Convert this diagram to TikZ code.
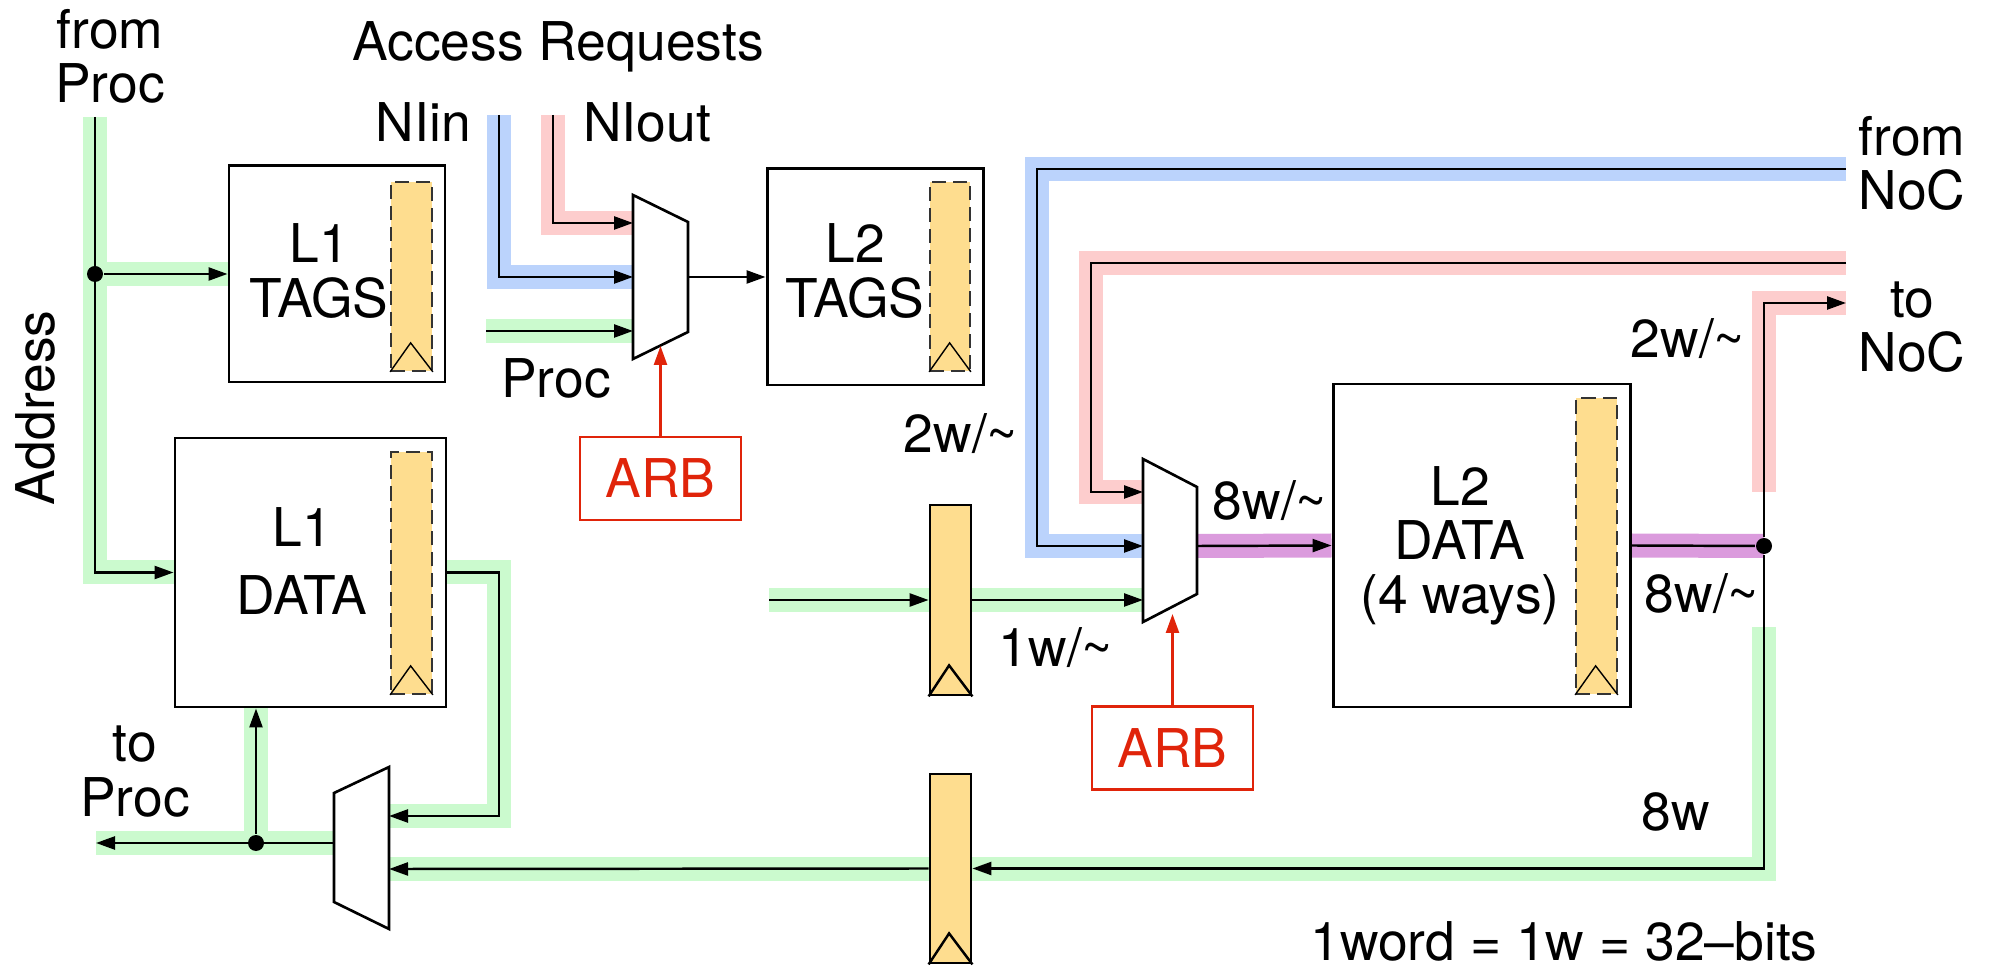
\documentclass[tikz,border=0pt]{standalone}
\usepackage{fontspec}
\setmainfont{TeX Gyre Heros}
\usetikzlibrary{arrows.meta,backgrounds}
\definecolor{bgreen}{RGB}{203,250,206}
\definecolor{bblue}{RGB}{187,211,252}
\definecolor{bpink}{RGB}{253,205,205}
\definecolor{bpurple}{RGB}{219,155,221}
\definecolor{regyellow}{RGB}{254,221,143}
\definecolor{arbred}{RGB}{224,36,10}
\tikzset{
  band/.style={line width=0.24cm, line cap=butt, line join=miter},
  blk/.style={draw, line width=0.85pt, fill=white},
  strip/.style={fill=regyellow, draw=black!80, line width=0.5pt, dash pattern=on 4pt off 2pt, minimum width=0.41cm, inner sep=0pt},
  reg/.style={fill=regyellow, draw, line width=0.8pt, minimum width=0.41cm, inner sep=0pt},
  mux/.style={draw, line width=0.75pt, line join=miter},
  dot/.style={circle, fill, inner sep=0pt, minimum size=0.16cm},
  arb/.style={draw=arbred, text=arbred, line width=0.6pt, minimum width=1.61cm, minimum height=0.83cm},
  lbl/.style={inner sep=0pt, align=center},
}
\begin{document}
\begin{tikzpicture}[>={Triangle[length=0.19cm,width=0.13cm]}, line width=0.7pt, font=\fontsize{15.2}{15.4}\selectfont]
\useasboundingbox (0,0) rectangle (19.89,-9.68);

% free ends
\coordinate (addrtop) at (0.95,-1.17);
\coordinate (nitop) at (4.99,-1.15);
\coordinate (notop) at (5.53,-1.15);
\coordinate (procin) at (4.86,-3.31);
\coordinate (fromnoc) at (18.46,-1.69);
\coordinate (fromnocb) at (18.46,-2.63);
\coordinate (tonoc) at (18.46,-3.03);
\coordinate (l2in) at (7.69,-6.00);
\coordinate (toproc) at (0.96,-8.43);

% mux ports
\coordinate (m1a) at (6.33,-2.23);
\coordinate (m1b) at (6.33,-2.77);
\coordinate (m1c) at (6.33,-3.31);
\coordinate (m1o) at (6.88,-2.77);
\coordinate (m1s) at (6.605,-3.46);
\coordinate (m2a) at (11.43,-4.92);
\coordinate (m2b) at (11.43,-5.46);
\coordinate (m2c) at (11.43,-6.00);
\coordinate (m2o) at (11.97,-5.46);
\coordinate (m2s) at (11.725,-6.14);
\coordinate (m3a) at (3.89,-8.16);
\coordinate (m3b) at (3.89,-8.69);
\coordinate (m3o) at (3.34,-8.43);

% blocks
\node[blk, minimum width=2.16cm, minimum height=2.16cm] (L1T) at (3.37,-2.74) {};
\node[blk, minimum width=2.71cm, minimum height=2.69cm] (L1D) at (3.105,-5.725) {};
\node[blk, minimum width=2.16cm, minimum height=2.16cm] (L2T) at (8.75,-2.77) {};
\node[blk, minimum width=2.97cm, minimum height=3.23cm] (L2D) at (14.815,-5.455) {};

\node[strip, minimum height=1.89cm] (L1Ts) at (4.115,-2.765) {};
\node[strip, minimum height=2.42cm] (L1Ds) at (4.115,-5.73) {};
\node[strip, minimum width=0.40cm, minimum height=1.89cm] (L2Ts) at (9.50,-2.765) {};
\node[strip, minimum height=2.96cm] (L2Ds) at (15.965,-5.46) {};
\foreach \s in {L1Ts,L1Ds,L2Ts,L2Ds}
  \draw[thin] (\s.south west) -- ++(0.205,0.29) -- (\s.south east);

\node[reg, minimum height=1.90cm] (reg1) at (9.505,-6.00) {};
\node[reg, minimum height=1.89cm] (reg2) at (9.505,-8.685) {};
\foreach \r in {reg1,reg2}
  \draw[line width=0.7pt] (\r.south west) -- ++(0.205,0.31) -- (\r.south east);

\node[arb] (arb1) at (6.605,-4.785) {ARB};
\node[arb] (arb2) at (11.725,-7.48) {ARB};

% muxes
\draw[mux] (6.33,-1.95) -- (6.88,-2.22) -- (6.88,-3.32) -- (6.33,-3.59) -- cycle;
\draw[mux] (11.43,-4.59) -- (11.97,-4.87) -- (11.97,-5.94) -- (11.43,-6.22) -- cycle;
\draw[mux] (3.89,-7.67) -- (3.34,-7.93) -- (3.34,-9.02) -- (3.89,-9.29) -- cycle;

\node[dot] (adot) at (0.95,-2.74) {};
\node[dot] (jdot) at (17.64,-5.46) {};
\node[dot] (pdot) at (2.56,-8.43) {};

% coloured bands
\begin{scope}[on background layer]
\draw[band, bgreen] (addrtop) |- (L1D.west);
\draw[band, bgreen] (adot) -- (L1T.west);
\draw[band, bgreen] (procin) -- (m1c);
\draw[band, bgreen] (L1D.east) -| (4.99,-8.16) -- (m3a);
\draw[band, bgreen] (m3o) -- (toproc);
\draw[band, bgreen] (pdot) -- (pdot |- L1D.south);
\draw[band, bgreen] (l2in) -- (m2c);
\draw[band, bgreen] (17.64,-6.27) |- (m3b);
\draw[band, bblue] (nitop) |- (m1b);
\draw[band, bblue] (fromnoc) -| (10.37,-5.46) -- (m2b);
\draw[band, bpink] (notop) |- (m1a);
\draw[band, bpink] (fromnocb) -| (10.91,-4.92) -- (m2a);
\draw[band, bpink] (17.64,-4.92) |- (tonoc);
\draw[band, bpurple] (m2o) -- (L2D.west);
\draw[band, bpurple] (L2D.east) -- (jdot.center);
\end{scope}

% wires
\draw[->] (addrtop) |- (L1D.west);
\draw[->] (adot) -- (L1T.west);
\draw[->] (nitop) |- (m1b);
\draw[->] (notop) |- (m1a);
\draw[->] (procin) -- (m1c);
\draw[->] (m1o) -- (L2T.west);
\draw[->] (fromnoc) -| (10.37,-5.46) -- (m2b);
\draw[->] (fromnocb) -| (10.91,-4.92) -- (m2a);
\draw[->] (l2in) -- (reg1.west);
\draw[->] (reg1.east) -- (m2c);
\draw[->] (m2o) -- (L2D.west);
\draw (L2D.east) -- (jdot);
\draw[->] (jdot) |- (tonoc);
\draw[->] (jdot) |- (reg2.east);
\draw[->] (reg2.west) -- (m3b);
\draw[->] (L1D.east) -| (4.99,-8.16) -- (m3a);
\draw[->] (m3o) -- (toproc);
\draw[->] (pdot) -- (pdot |- L1D.south);
\draw[->, arbred] (arb1) -- (m1s);
\draw[->, arbred] (arb2) -- (m2s);

% labels
\node[lbl] (fromprocl) at (1.10,-0.56) {from\\Proc};
\node[lbl, anchor=base] (accessl) at (5.58,-0.61) {Access Requests};
\node[lbl, anchor=base east] (niinl) at (4.72,-1.42) {NIin};
\node[lbl, anchor=base west] (nioutl) at (5.82,-1.42) {NIout};
\node[lbl, anchor=base] (procl) at (5.56,-3.98) {Proc};
\node[lbl] (L1Tl) at (3.19,-2.71) {L1\\TAGS};
\node[lbl] (L2Tl) at (8.55,-2.71) {L2\\TAGS};
\node[lbl] (L1Dl) at (3.02,-5.61) {L1\\[3.7pt]DATA};
\node[lbl] (L2Dl) at (14.60,-5.455) {L2\\DATA\\(4 ways)};
\node[lbl, anchor=base] (w2a) at (9.61,-4.53) {2w/\textasciitilde};
\node[lbl, anchor=base] (w8a) at (12.70,-5.20) {8w/\textasciitilde};
\node[lbl, anchor=base] (w1a) at (10.56,-6.67) {1w/\textasciitilde};
\node[lbl, anchor=base] (w2b) at (16.88,-3.58) {2w/\textasciitilde};
\node[lbl, anchor=base] (w8b) at (17.02,-6.13) {8w/\textasciitilde};
\node[lbl, anchor=base] (w8c) at (16.76,-8.30) {8w};
\node[lbl, anchor=base] (notel) at (15.64,-9.60) {1word = 1w = 32--bits};
\node[lbl, rotate=90] (addrl) at (0.35,-4.08) {Address};
\node[lbl] (fromnocl) at (19.12,-1.63) {from\\NoC};
\node[lbl] (tonocl) at (19.12,-3.27) {to\\NoC};
\node[lbl] (toprocl) at (1.35,-7.715) {to\\Proc};
\end{tikzpicture}
\end{document}
